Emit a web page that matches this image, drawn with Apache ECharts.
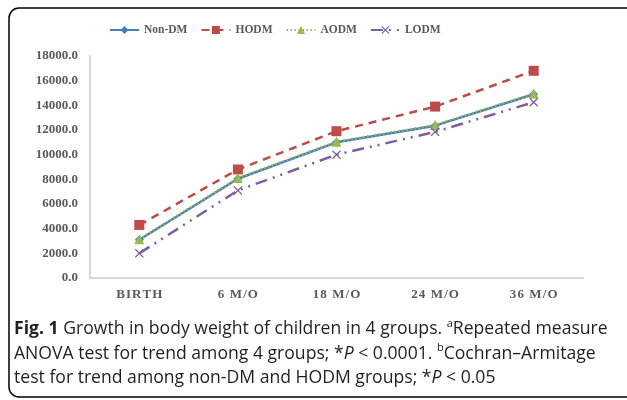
<!DOCTYPE html>
<html><head><meta charset="utf-8">
<script src="https://cdn.jsdelivr.net/npm/echarts@6/dist/echarts.min.js"></script>
<style>html,body{margin:0;padding:0;background:#fff}#c{width:627px;height:400px}</style>
</head><body><div id="c"></div>
<script>
const categories = ['BIRTH', '6 M/O', '18 M/O', '24 M/O', '36 M/O'];
const nonDM = [3100, 8050, 11000, 12350, 14900];
const hodm = [4300, 8800, 11900, 13900, 16800];
const aodm = [3150, 8100, 11050, 12400, 14950];
const lodm = [2000, 7100, 10000, 11850, 14250];
const yTicks = {min: 0, max: 18000, interval: 2000};

const chart = echarts.init(document.getElementById('c'));
const serif = '"Liberation Serif", "Times New Roman", serif';
const xPath = 'path://M0,1L1,0L5,4L9,0L10,1L6,5L10,9L9,10L5,6L1,10L0,9L4,5Z';
const cap = '"Open Sans", "Noto Sans", sans-serif';
const fs = 17.6;
const sup = {fontSize: 11, fontFamily: cap, verticalAlign: 'top', lineHeight: 22, fill: '#231F20'};
chart.setOption({
  animation: false,
  grid: {left: 90, right: 44, top: 56, bottom: 122},
  legend: {
    left: 109, top: 24, padding: 0, itemWidth: 29, itemHeight: 10, itemGap: 13,
    textStyle: {fontFamily: serif, fontWeight: 'bold', fontSize: 11.5, color: '#595959'}
  },
  xAxis: {
    type: 'category', data: categories, boundaryGap: true,
    axisLine: {lineStyle: {color: '#D9D9D9', width: 2}},
    axisTick: {show: false},
    axisLabel: {margin: 10, fontFamily: serif, fontWeight: 'bold', fontSize: 13, color: '#595959',
      formatter: s => s.split('').join('\u200A')}
  },
  yAxis: {
    type: 'value', min: yTicks.min, max: yTicks.max, interval: yTicks.interval,
    axisLine: {show: true, lineStyle: {color: '#D9D9D9', width: 2}},
    axisTick: {show: false}, splitLine: {show: false},
    axisLabel: {margin: 12, fontFamily: serif, fontWeight: 'bold', fontSize: 13, color: '#595959',
      formatter: v => v.toFixed(1)}
  },
  series: [
    {name: 'Non-DM', type: 'line', data: nonDM, symbol: 'diamond', symbolSize: 9,
      itemStyle: {color: '#4A7EBB'}, lineStyle: {color: '#4A7EBB', width: 2.5}},
    {name: 'HODM', type: 'line', data: hodm, symbol: 'rect', symbolSize: 10,
      itemStyle: {color: '#BE4B48'}, lineStyle: {color: '#BE4B48', width: 2.5, type: [8, 6]}},
    {name: 'AODM', type: 'line', data: aodm, symbol: 'triangle', symbolSize: 10,
      itemStyle: {color: '#98B954'}, lineStyle: {color: '#98B954', width: 2.5, type: [1.5, 2.5]}},
    {name: 'LODM', type: 'line', data: lodm, symbol: xPath, symbolSize: 9,
      itemStyle: {color: '#7D5FA0'}, lineStyle: {color: '#7D5FA0', width: 2.5, type: [12, 6, 2, 6, 2, 6]}}
  ],
  graphic: [
    {type: 'rect', shape: {x: 9, y: 8, width: 650, height: 389, r: 10},
      style: {fill: 'none', stroke: '#000', lineWidth: 1.5}},
    {type: 'text', x: 14, y: 329, style: {
      text: '{b|Fig. 1} Growth in body weight of children in 4 groups. {s|a}Repeated measure',
      font: fs + 'px ' + cap, fill: '#231F20', verticalAlign: 'middle', lineHeight: 22,
      rich: {b: {fontWeight: 'bold', fontSize: fs, fontFamily: cap, fill: '#231F20', lineHeight: 22},
             s: sup}}},
    {type: 'text', x: 14, y: 353.5, style: {
      text: 'ANOVA test for trend among 4 groups; *{i|P} < 0.0001. {s|b}Cochran–Armitage',
      font: fs + 'px ' + cap, fill: '#231F20', verticalAlign: 'middle', lineHeight: 22,
      rich: {i: {fontStyle: 'italic', fontSize: fs, fontFamily: cap, lineHeight: 22}, s: sup}}},
    {type: 'text', x: 14, y: 377.5, style: {
      text: 'test for trend among non-DM and HODM groups; *{i|P} < 0.05',
      font: fs + 'px ' + cap, fill: '#231F20', verticalAlign: 'middle', lineHeight: 22,
      rich: {i: {fontStyle: 'italic', fontSize: fs, fontFamily: cap, lineHeight: 22}}}}
  ]
});
</script></body></html>
